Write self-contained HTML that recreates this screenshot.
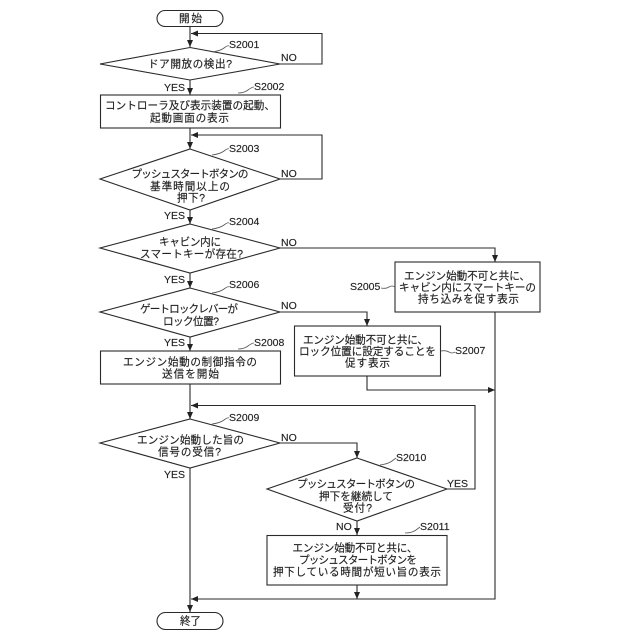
<!DOCTYPE html>
<html><head><meta charset="utf-8"><style>
html,body{margin:0;padding:0;background:#fff}
svg{display:block}
text{font-family:"Liberation Sans","Noto Sans CJK JP",sans-serif;font-size:10.6px;fill:#222;stroke:#222;stroke-width:.15;text-anchor:middle;dominant-baseline:central}
.l{text-anchor:start;font-size:10.5px}
.s{fill:none;stroke:#2a2a2a;stroke-width:1.1}
.t{fill:none;stroke:#555;stroke-width:.8}
</style></head><body>
<svg width="640" height="640" viewBox="0 0 640 640" xmlns="http://www.w3.org/2000/svg">
<defs>
<marker id="a" markerWidth="8" markerHeight="6" refX="7" refY="3" orient="auto" markerUnits="userSpaceOnUse"><path d="M0 0L7 3L0 6Z" fill="#222"/></marker>
</defs>
<g class="s">
<rect x="157" y="10.5" width="66" height="16" rx="8"/>
<rect x="157" y="612.5" width="66" height="17" rx="8.5"/>
<path d="M190 47.5L280 64L190 80L100 64Z"/>
<path d="M190 149L280 179L190 210L100 179Z"/>
<path d="M190 224L280 248L190 273L100 248Z"/>
<path d="M190 288L280 312L190 337L100 312Z"/>
<path d="M190 419L280 443L190 468L100 443Z"/>
<path d="M357 458L447 489L357 521L267 489Z"/>
<rect x="100.5" y="95" width="180" height="33"/>
<rect x="100.5" y="351" width="180" height="33"/>
<rect x="395" y="262" width="145" height="50"/>
<rect x="294.500" y="326" width="146" height="50"/>
<rect x="267" y="535.5" width="180" height="49.500"/>
<path d="M190 26.500V47" marker-end="url(#a)"/>
<path d="M280 64H322V33.500H191" marker-end="url(#a)"/>
<path d="M190 80V95" marker-end="url(#a)"/>
<path d="M190 128V149" marker-end="url(#a)"/>
<path d="M280 179H322V135H191" marker-end="url(#a)"/>
<path d="M190 210V224" marker-end="url(#a)"/>
<path d="M190 273V288" marker-end="url(#a)"/>
<path d="M190 337V351" marker-end="url(#a)"/>
<path d="M190 384V419" marker-end="url(#a)"/>
<path d="M190 468V612" marker-end="url(#a)"/>
<path d="M280 248H495V262" marker-end="url(#a)"/>
<path d="M280 312H367V326" marker-end="url(#a)"/>
<path d="M367 376V390H495" marker-end="url(#a)"/>
<path d="M495 312V599H191" marker-end="url(#a)"/>
<path d="M280 443H357V458" marker-end="url(#a)"/>
<path d="M447 489H475V405.500H191" marker-end="url(#a)"/>
<path d="M357 521V535" marker-end="url(#a)"/>
<path d="M357 585V599" marker-end="url(#a)"/>
</g>
<g class="t">
<path d="M212 52Q220 51 224 48T229 46"/>
<path d="M238 93Q244 93 248 90T254 87"/>
<path d="M212 155Q220 154 224 151T229 149"/>
<path d="M212 229Q220 228 224 225T229 223"/>
<path d="M212 293Q220 292 224 289T229 287"/>
<path d="M238 349Q244 349 248 346T254 343"/>
<path d="M212 424Q220 423 224 420T229 418"/>
<path d="M380 465Q388 464 392 461T396 458"/>
<path d="M405 533Q412 533 416 530T420 527"/>
<path d="M381 288Q386 289 389 287T395 287"/>
<path d="M441 351Q446 350 449 352T455 352"/>
</g>
<g transform="translate(0,1)">
<text x="190.500" y="18" textLength="23">開始</text>
<text x="190.500" y="620.500" textLength="21">終了</text>
<text x="190" y="63.500" textLength="84">ドア開放の検出?</text>
<text x="190" y="105" textLength="170">コントローラ及び表示装置の起動、</text>
<text x="189.500" y="117.500" textLength="79">起動画面の表示</text>
<text x="190" y="173.500" textLength="117">プッシュスタートボタンの</text>
<text x="190" y="186" textLength="80">基準時間以上の</text>
<text x="191" y="197.500" textLength="28">押下?</text>
<text x="190" y="241.500" textLength="62">キャビン内に</text>
<text x="191.500" y="253.500" textLength="103">スマートキーが存在?</text>
<text x="189" y="308.500" textLength="98">ゲートロックレバーが</text>
<text x="191" y="321" textLength="56">ロック位置?</text>
<text x="190" y="361.500" textLength="134">エンジン始動の制御指令の</text>
<text x="190.500" y="373.500" textLength="57">送信を開始</text>
<text x="190.500" y="439.500" textLength="107">エンジン始動した旨の</text>
<text x="189.500" y="451.500" textLength="63">信号の受信?</text>
<text x="467" y="275.500" textLength="126">エンジン始動不可と共に、</text>
<text x="467.500" y="287" textLength="137">キャビン内にスマートキーの</text>
<text x="468.500" y="298.500" textLength="101">持ち込みを促す表示</text>
<text x="365.500" y="339.500" textLength="125">エンジン始動不可と共に、</text>
<text x="367.500" y="351" textLength="137">ロック位置に設定することを</text>
<text x="367.500" y="362.500" textLength="45">促す表示</text>
<text x="356" y="483.500" textLength="118">プッシュスタートボタンの</text>
<text x="356" y="496" textLength="74">押下を継続して</text>
<text x="357.500" y="507.500" textLength="29">受付?</text>
<text x="355" y="547.500" textLength="125">エンジン始動不可と共に、</text>
<text x="358" y="559.500" textLength="118">プッシュスタートボタンを</text>
<text x="357" y="571.500" textLength="168">押下している時間が短い旨の表示</text>
</g>
<text class="l" x="229" y="45">S2001</text>
<text class="l" x="254" y="87">S2002</text>
<text class="l" x="229" y="149">S2003</text>
<text class="l" x="229" y="222">S2004</text>
<text class="l" x="350" y="287">S2005</text>
<text class="l" x="229" y="285">S2006</text>
<text class="l" x="455" y="351">S2007</text>
<text class="l" x="254" y="343">S2008</text>
<text class="l" x="229" y="418">S2009</text>
<text class="l" x="396" y="458">S2010</text>
<text class="l" x="420" y="527">S2011</text>
<text class="l" x="281" y="58">NO</text>
<text class="l" x="281" y="174">NO</text>
<text class="l" x="281" y="243">NO</text>
<text class="l" x="281" y="306">NO</text>
<text class="l" x="281" y="438">NO</text>
<text class="l" x="336" y="527">NO</text>
<text class="l" x="164" y="88">YES</text>
<text class="l" x="164" y="216">YES</text>
<text class="l" x="164" y="280">YES</text>
<text class="l" x="164" y="343">YES</text>
<text class="l" x="164" y="475">YES</text>
<text class="l" x="447" y="484">YES</text>
</svg>
</body></html>
